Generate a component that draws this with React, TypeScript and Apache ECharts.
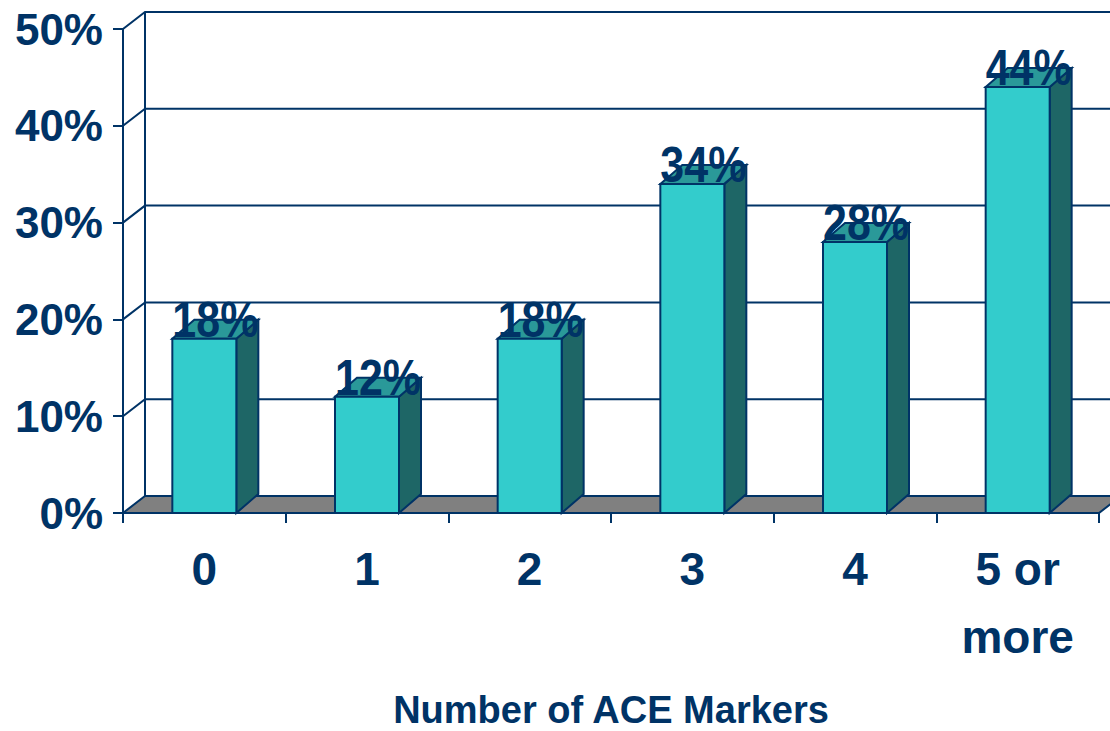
import React, { useEffect, useRef } from "react";
import * as echarts from "echarts";

const categories = ["0", "1", "2", "3", "4", "5 or\nmore"];
const values = [18, 12, 18, 34, 28, 44];
const yTicks = [0, 10, 20, 30, 40, 50];
const axisTitle = "Number of ACE Markers";

const NAVY = "#003366";
const FRONT = "#33CCCC";
const SIDE = "#1E6666";
const TOP = "#2A9999";
const FLOOR = "#808080";
const DX = 22;
const DY = -17;
const BDX = 22;
const BDY = -19;
const BAR_W = 64;
const SANS = "'Liberation Sans', Arial, sans-serif";

export default function App() {
  const ref = useRef<HTMLDivElement>(null);
  useEffect(() => {
    if (!ref.current) return;
    const chart = echarts.init(ref.current, undefined, { renderer: "svg" });
    chart.setOption({
      animation: false,
      backgroundColor: "#ffffff",
      grid: { left: 123, right: 11, top: 29, bottom: 218, containLabel: false, outerBoundsMode: "none" },
      xAxis: {
        type: "category",
        data: categories,
        boundaryGap: true,
        z: 10,
        axisLine: { show: true, lineStyle: { color: NAVY, width: 2 } },
        axisTick: { show: true, length: 10, interval: 0, alignWithLabel: false, lineStyle: { color: NAVY, width: 2 } },
        axisLabel: {
          interval: 0,
          margin: 22,
          color: NAVY,
          fontFamily: SANS,
          fontWeight: "bold",
          fontSize: 46,
          lineHeight: 68,
        },
        name: axisTitle,
        nameLocation: "middle",
        nameGap: 178,
        nameMoveOverlap: false,
        nameTextStyle: { color: NAVY, fontFamily: SANS, fontWeight: "bold", fontSize: 38 },
      },
      yAxis: {
        type: "value",
        min: 0,
        max: 50,
        interval: 10,
        z: 10,
        axisLine: { show: true, lineStyle: { color: NAVY, width: 2 } },
        axisTick: { show: true, length: 10, lineStyle: { color: NAVY, width: 2 } },
        splitLine: { show: false },
        axisLabel: {
          formatter: "{value}%",
          margin: 20,
          color: NAVY,
          fontFamily: SANS,
          fontWeight: "bold",
          fontSize: 44,
        },
      },
      series: [
        {
          type: "custom",
          z: 1,
          silent: true,
          data: yTicks.map((v) => [0, v]),
          encode: { x: 0, y: 1 },
          renderItem: (params: any, api: any) => {
            const v = api.value(1);
            const cs = params.coordSys;
            const y = api.coord([0, v])[1];
            const x0 = cs.x;
            const x1 = cs.x + cs.width;
            const children: any[] = [];
            if (v === 0) {
              children.push({
                type: "line",
                shape: { x1: x0 + DX, y1: y + DY, x2: x0 + DX, y2: cs.y + DY },
                style: { stroke: NAVY, lineWidth: 2 },
              });
              children.push({
                type: "polygon",
                shape: { points: [[x0, y], [x1, y], [x1 + DX, y + DY], [x0 + DX, y + DY]] },
                style: { fill: FLOOR, stroke: NAVY, lineWidth: 2 },
              });
            } else {
              children.push({
                type: "polyline",
                shape: { points: [[x0, y], [x0 + DX, y + DY], [x1 + DX, y + DY]] },
                style: { fill: "none", stroke: NAVY, lineWidth: 2 },
              });
            }
            return { type: "group", children };
          },
        },
        {
          type: "custom",
          z: 3,
          data: values.map((v, i) => [i, v]),
          encode: { x: 0, y: 1 },
          renderItem: (params: any, api: any) => {
            const i = api.value(0);
            const v = api.value(1);
            const [cx, ty] = api.coord([i, v]);
            const by = api.coord([i, 0])[1];
            const l = cx - BAR_W / 2;
            const r = cx + BAR_W / 2;
            return {
              type: "group",
              children: [
                {
                  type: "polygon",
                  shape: { points: [[r, by], [r + BDX, by + BDY], [r + BDX, ty + BDY], [r, ty]] },
                  style: { fill: SIDE, stroke: NAVY, lineWidth: 2 },
                },
                {
                  type: "polygon",
                  shape: { points: [[l, ty], [r, ty], [r + BDX, ty + BDY], [l + BDX, ty + BDY]] },
                  style: { fill: TOP, stroke: NAVY, lineWidth: 2 },
                },
                {
                  type: "rect",
                  shape: { x: l, y: ty, width: BAR_W, height: by - ty },
                  style: { fill: FRONT, stroke: NAVY, lineWidth: 2 },
                },
                {
                  type: "text",
                  x: cx + 11,
                  y: ty - 19,
                  scaleY: 1.15,
                  style: {
                    text: v + "%",
                    fill: NAVY,
                    fontFamily: SANS,
                    fontWeight: "bold",
                    fontSize: 43,
                    align: "center",
                    verticalAlign: "middle",
                  },
                },
              ],
            };
          },
        },
      ],
    });
    return () => chart.dispose();
  }, []);
  return (
    <div
      ref={ref}
      style={{ position: "fixed", left: 0, top: 0, width: 1110, height: 731, background: "#fff" }}
    />
  );
}
